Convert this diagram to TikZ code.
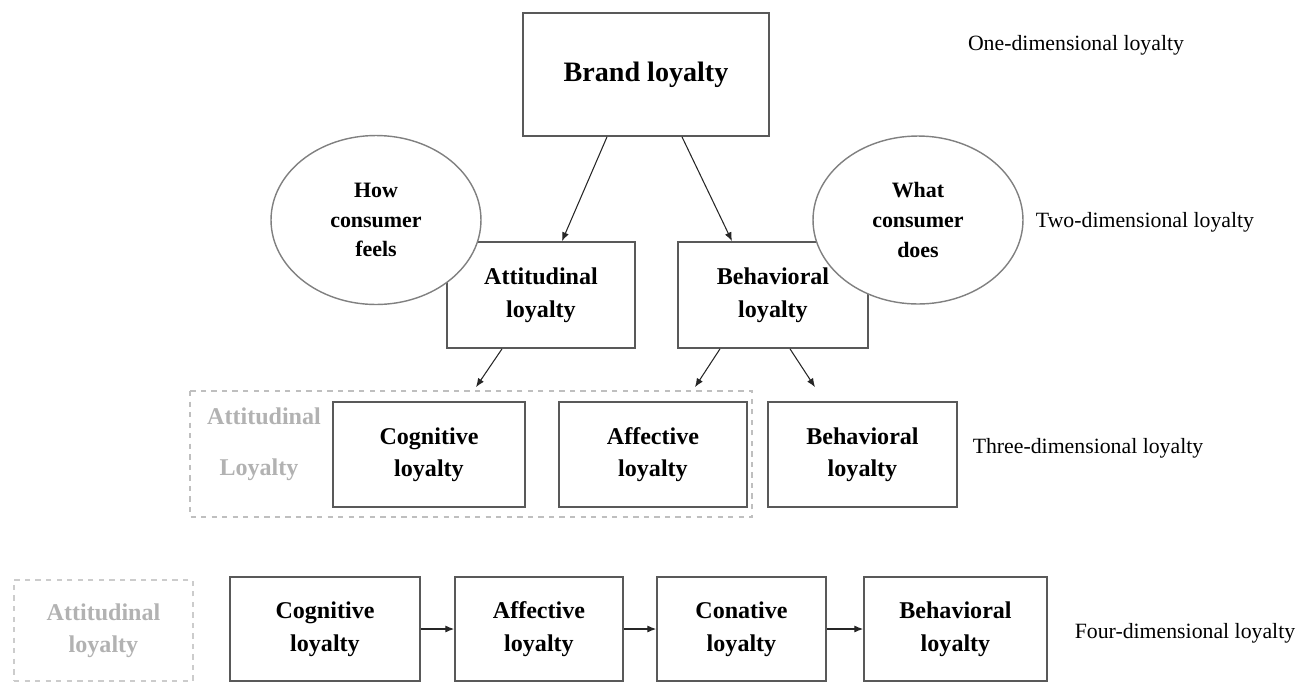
\documentclass[tikz,border=0pt]{standalone}
\usepackage{fontspec}
\setmainfont{Liberation Serif}
\usepackage{tikz}
\usetikzlibrary{arrows.meta}
\usetikzlibrary{shapes.geometric}

\tikzset{
  box/.style={draw=black!65, line width=1pt, fill=white, align=center,
    font=\fontsize{13.7}{18.5}\selectfont\bfseries},
  bubble/.style={ellipse, draw=black!50, line width=0.8pt, fill=white, align=center,
    font=\fontsize{12.5}{17}\selectfont\bfseries, inner sep=0pt},
  faint/.style={text=black!30, font=\fontsize{13.7}{18.5}\selectfont\bfseries, align=center},
  level/.style={font=\fontsize{12.4}{14}\selectfont, anchor=center},
  arr/.style={-{Latex[length=5pt,width=4pt]}, line width=0.6pt, draw=black!85}
}

\begin{document}
\begin{tikzpicture}[x=0.02cm, y=-0.02cm]
    \useasboundingbox (0,0) rectangle (1303,684);

    % one dimension
    \node[box, minimum width=4.92cm, minimum height=2.46cm, font=\fontsize{16}{18}\selectfont\bfseries] (brand) at (646,74.5) {Brand loyalty};
    \node[level] (lvlone) at (1076,45) {One-dimensional loyalty};

    % two dimensions
    \node[box, minimum width=3.76cm, minimum height=2.12cm] (attit) at (541,295) {Attitudinal\\loyalty};
    \node[box, minimum width=3.8cm, minimum height=2.12cm] (behav) at (773,295) {Behavioral\\loyalty};
    \node[bubble, minimum width=4.2cm, minimum height=3.38cm] (feels) at (376,220) {How\\consumer\\feels};
    \node[bubble, minimum width=4.2cm, minimum height=3.36cm] (does) at (918,220) {What\\consumer\\does};
    \node[level] (lvltwo) at (1145,222) {Two-dimensional loyalty};
    \draw[arr] ([xshift=-0.78cm]brand.south) -- ([xshift=0.42cm]attit.north);
    \draw[arr] ([xshift=0.72cm]brand.south) -- ([xshift=-0.82cm]behav.north);

    % three dimensions
    \draw[black!25, dashed, line width=0.7pt] (190,391) rectangle (752,517);
    \node[faint] (attthree) at (264,416) {Attitudinal};
    \node[faint] (loythree) at (259,470) {Loyalty};
    \node[box, minimum width=3.84cm, minimum height=2.1cm] (cogthree) at (429,454.5) {Cognitive\\loyalty};
    \node[box, minimum width=3.76cm, minimum height=2.1cm] (affthree) at (653,454.5) {Affective\\loyalty};
    \node[box, minimum width=3.78cm, minimum height=2.1cm] (behthree) at (862.5,454.5) {Behavioral\\loyalty};
    \node[level] (lvlthree) at (1088,448) {Three-dimensional loyalty};
    \draw[arr] ([xshift=-0.78cm]attit.south) -- ([xshift=0.94cm,yshift=0.28cm]cogthree.north);
    \draw[arr] ([xshift=-1.06cm]behav.south) -- ([xshift=0.84cm,yshift=0.28cm]affthree.north);
    \draw[arr] ([xshift=0.34cm]behav.south) -- ([xshift=-0.95cm,yshift=0.28cm]behthree.north);

    % four dimensions
    \node[faint, draw=black!20, dashed, line width=0.7pt, minimum width=3.58cm, minimum height=2.02cm] (attfour) at (103.5,630.5) {Attitudinal\\loyalty};
    \node[box, minimum width=3.8cm, minimum height=2.08cm] (cogfour) at (325,629) {Cognitive\\loyalty};
    \node[box, minimum width=3.36cm, minimum height=2.08cm] (afffour) at (539,629) {Affective\\loyalty};
    \node[box, minimum width=3.38cm, minimum height=2.08cm] (confour) at (741.5,629) {Conative\\loyalty};
    \node[box, minimum width=3.66cm, minimum height=2.08cm] (behfour) at (955.5,629) {Behavioral\\loyalty};
    \node[level] (lvlfour) at (1185,633) {Four-dimensional loyalty};
    \draw[arr] (cogfour.east) -- (afffour.west);
    \draw[arr] (afffour.east) -- (confour.west);
    \draw[arr] (confour.east) -- (behfour.west);
\end{tikzpicture}
\end{document}
